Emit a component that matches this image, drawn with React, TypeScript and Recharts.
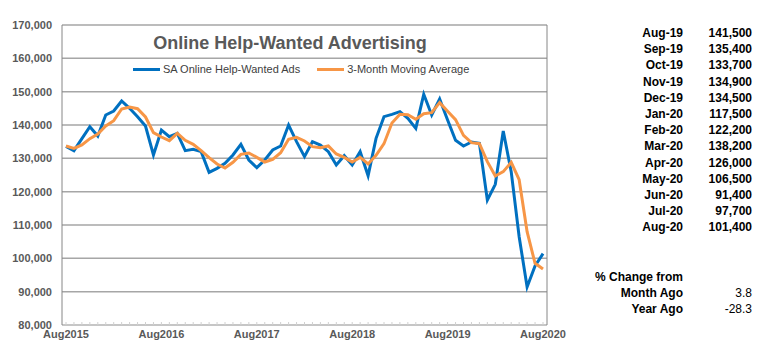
import { CartesianGrid, Legend, Line, LineChart, XAxis, YAxis } from "recharts";

const months = [
  "Aug2015", "Sep2015", "Oct2015", "Nov2015", "Dec2015",
  "Jan2016", "Feb2016", "Mar2016", "Apr2016", "May2016", "Jun2016", "Jul2016", "Aug2016", "Sep2016", "Oct2016", "Nov2016", "Dec2016",
  "Jan2017", "Feb2017", "Mar2017", "Apr2017", "May2017", "Jun2017", "Jul2017", "Aug2017", "Sep2017", "Oct2017", "Nov2017", "Dec2017",
  "Jan2018", "Feb2018", "Mar2018", "Apr2018", "May2018", "Jun2018", "Jul2018", "Aug2018", "Sep2018", "Oct2018", "Nov2018", "Dec2018",
  "Jan2019", "Feb2019", "Mar2019", "Apr2019", "May2019", "Jun2019", "Jul2019", "Aug2019", "Sep2019", "Oct2019", "Nov2019", "Dec2019",
  "Jan2020", "Feb2020", "Mar2020", "Apr2020", "May2020", "Jun2020", "Jul2020", "Aug2020",
];

const saAds = [
  133600, 132300, 135900, 139500, 136700,
  143000, 144200, 147200, 145000, 142500, 139700, 131000, 138500, 136500, 137500, 132300, 132700,
  132000, 125800, 127000, 128500, 131000, 134200, 129500, 127200, 129500, 132500, 133700, 140000,
  135000, 130500, 135000, 134000, 132000, 128000, 130800, 128000, 132000, 124800, 136000, 142500,
  143200, 144000, 142000, 139000, 149200, 143000, 147800, 141500, 135400, 133700, 134900, 134500,
  117500, 122200, 138200, 126000, 106500, 91400, 97700, 101400,
];

const movingAvg = [
  133700, 133000, 134000, 135900, 137300,
  139700, 141300, 144800, 145400, 144900, 142400, 137700, 136400, 135300, 137500, 135400, 134200,
  132300, 130200, 128300, 127100, 128800, 131200, 131600, 130300, 128900, 129700, 131700, 135700,
  136300, 135200, 133500, 133200, 133700, 131300, 130300, 128900, 130300, 128300, 130900, 134400,
  140600, 143200, 143100, 141700, 143400, 143700, 146700, 144100, 141600, 136900, 134700, 134400,
  129000, 124700, 126000, 128800, 123600, 108000, 98500, 96800,
];

const yTicks = [80000, 90000, 100000, 110000, 120000, 130000, 140000, 150000, 160000, 170000];

const tableLabels = [
  "Aug-19", "Sep-19", "Oct-19", "Nov-19", "Dec-19", "Jan-20", "Feb-20",
  "Mar-20", "Apr-20", "May-20", "Jun-20", "Jul-20", "Aug-20",
];
const tableValues = [141500, 135400, 133700, 134900, 134500, 117500, 122200, 138200, 126000, 106500, 91400, 97700, 101400];
const changeLabels = ["Month Ago", "Year Ago"];
const changeValues = ["3.8", "-28.3"];

const BLUE = "#0070C0";
const ORANGE = "#F79646";
const FONT = "'Liberation Sans', Arial, sans-serif";

const data = months.map((m, i) => ({ month: m, ads: saAds[i], avg: movingAvg[i] }));

const legendItems = [
  { name: "SA Online Help-Wanted Ads", color: BLUE },
  { name: "3-Month Moving Average", color: ORANGE },
];

const ChartLegend = () => (
  <div style={{ display: "flex", gap: 17, fontFamily: FONT, fontSize: 11, color: "#404040", whiteSpace: "nowrap" }}>
    {legendItems.map((item) => (
      <div key={item.name} style={{ display: "flex", alignItems: "center" }}>
        <span style={{ display: "inline-block", width: 27, height: 3, background: item.color, marginRight: 3 }} />
        <span>{item.name}</span>
      </div>
    ))}
  </div>
);

export default function App() {
  return (
    <div style={{ position: "relative", width: 747, height: 337, fontFamily: FONT }}>
      <LineChart width={560} height={345} data={data} margin={{ top: 17, right: 20, left: 0, bottom: 8 }}>
        <CartesianGrid vertical={false} stroke="#a6a6a6" strokeWidth={1.5} />
        <XAxis
          dataKey="month"
          interval={0}
          height={20}
          padding={{ left: 4, right: 4 }}
          tickSize={-3}
          tickMargin={8}
          tickLine={{ stroke: "#d0d0d0" }}
          axisLine={{ stroke: "#d0d0d0" }}
          tickFormatter={(v: string) => (v.startsWith("Aug") ? v : "")}
          tick={{ fill: "#595959", fontSize: 11, fontWeight: "bold", fontFamily: FONT }}
        />
        <YAxis
          width={54}
          domain={[80000, 170000]}
          ticks={yTicks}
          tickLine={false}
          tickMargin={4}
          axisLine={{ stroke: "#868686" }}
          tickFormatter={(v: number) => v.toLocaleString("en-US")}
          tick={{ fill: "#595959", fontSize: 11, fontWeight: "bold", fontFamily: FONT }}
        />
        <YAxis
          yAxisId="r"
          orientation="right"
          width={1}
          domain={[80000, 170000]}
          tick={false}
          tickLine={false}
          axisLine={{ stroke: "#868686" }}
        />
        <Legend
          verticalAlign="middle"
          content={() => <ChartLegend />}
          wrapperStyle={{ top: 55, left: 125, width: "auto" }}
        />
        <Line
          type="linear"
          dataKey="ads"
          name="SA Online Help-Wanted Ads"
          stroke={BLUE}
          strokeWidth={3}
          dot={false}
          isAnimationActive={false}
        />
        <Line
          type="linear"
          dataKey="avg"
          name="3-Month Moving Average"
          stroke={ORANGE}
          strokeWidth={3}
          dot={false}
          isAnimationActive={false}
        />
      </LineChart>

      <div
        style={{
          position: "absolute",
          left: 0,
          top: 24,
          width: 564,
          textAlign: "center",
          fontSize: 18,
          fontWeight: "bold",
          color: "#595959",
          lineHeight: "22px",
        }}
      >
        Online Help-Wanted Advertising
      </div>

      <div style={{ position: "absolute", left: 560, top: 17, fontSize: 12, lineHeight: "16.2px", color: "#000" }}>
        {tableLabels.map((label, i) => (
          <div key={label} style={{ display: "flex", fontWeight: "bold" }}>
            <span style={{ width: 115, textAlign: "right" }}>{label}</span>
            <span style={{ width: 69, textAlign: "right" }}>{tableValues[i].toLocaleString("en-US")}</span>
          </div>
        ))}
      </div>

      <div style={{ position: "absolute", left: 560, top: 261, fontSize: 12, lineHeight: "16px", color: "#000" }}>
        <div style={{ display: "flex" }}>
          <span style={{ width: 115, textAlign: "right", fontWeight: "bold" }}>% Change from</span>
        </div>
        {changeLabels.map((label, i) => (
          <div key={label} style={{ display: "flex" }}>
            <span style={{ width: 115, textAlign: "right", fontWeight: "bold" }}>{label}</span>
            <span style={{ width: 69, textAlign: "right" }}>{changeValues[i]}</span>
          </div>
        ))}
      </div>
    </div>
  );
}
